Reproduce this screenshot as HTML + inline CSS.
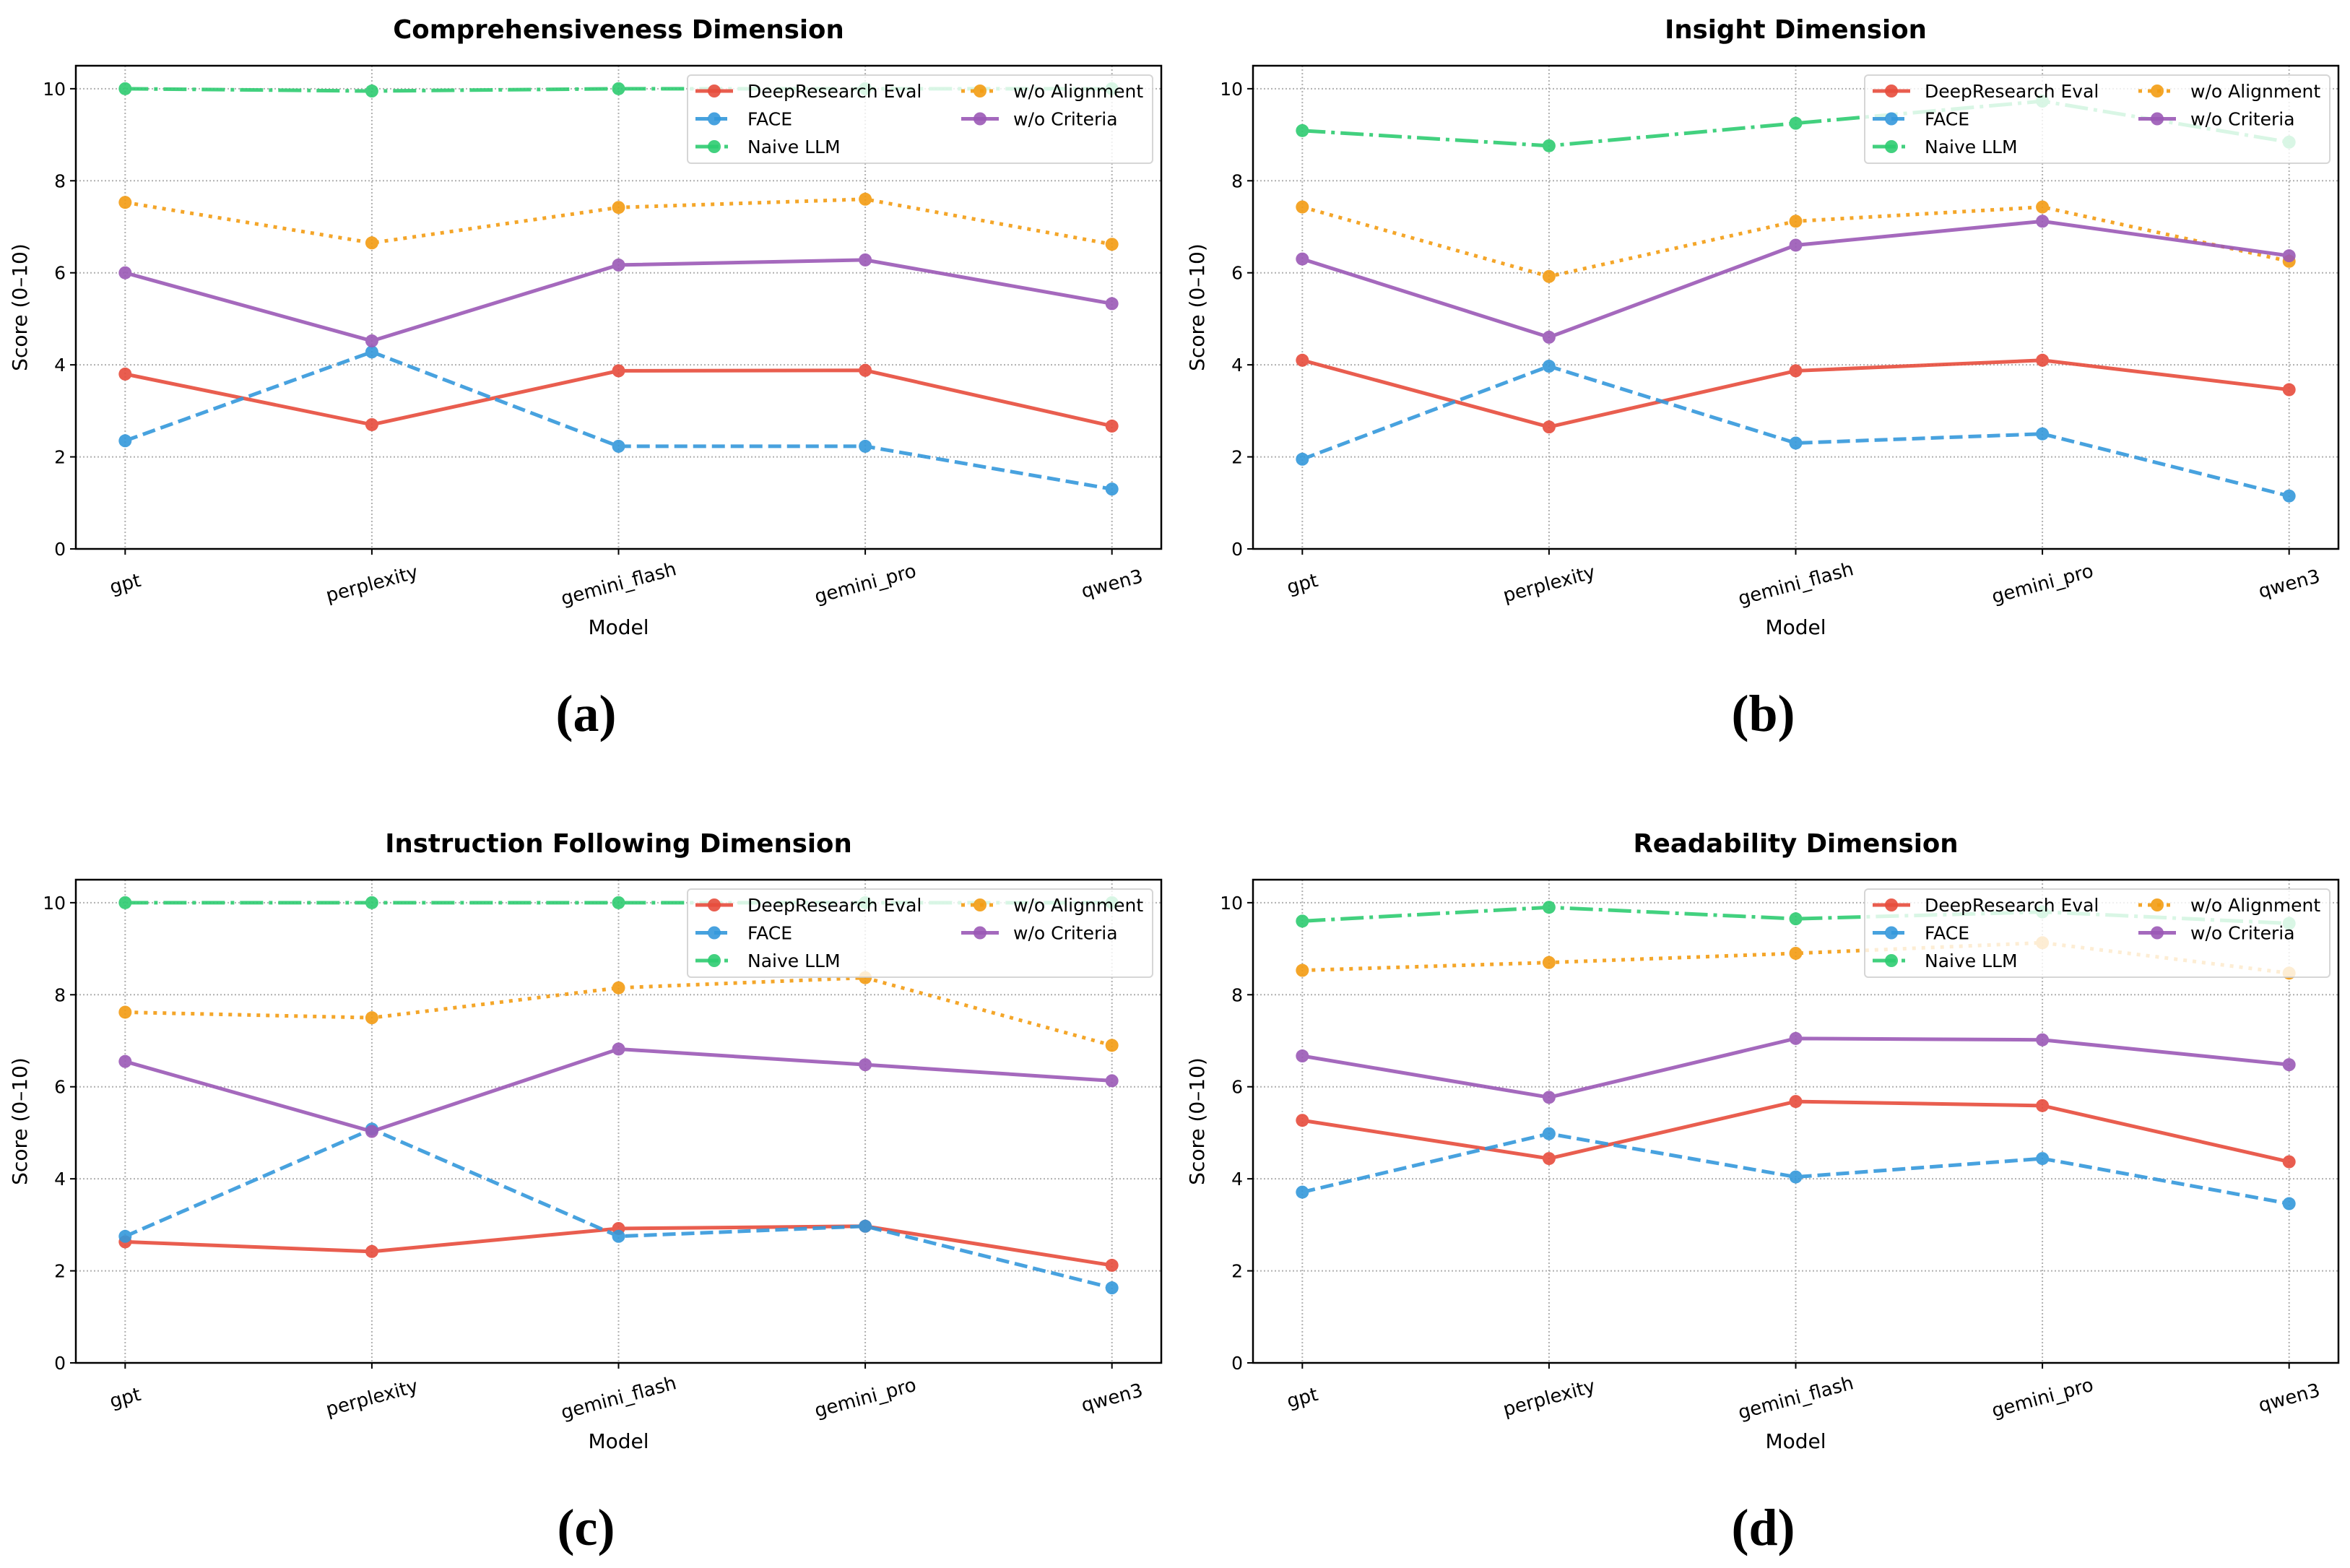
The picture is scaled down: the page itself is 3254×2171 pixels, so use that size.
<!DOCTYPE html>
<html><head><meta charset="utf-8"><style>
html,body{margin:0;padding:0;background:#fff;}
svg{display:block;font-family:"DejaVu Sans","Liberation Sans",sans-serif;}
</style></head><body>
<svg id="fig" width="3254" height="2171" viewBox="0 0 3254 2171" xmlns="http://www.w3.org/2000/svg"></svg>
<script>
const categories = ["gpt","perplexity","gemini_flash","gemini_pro","qwen3"];
const seriesNames = ["DeepResearch Eval","FACE","Naive LLM","w/o Alignment","w/o Criteria"];
const yTicks = [0,2,4,6,8,10];
const panelTitles = ["Comprehensiveness Dimension","Insight Dimension","Instruction Following Dimension","Readability Dimension"];
const panelLabels = ["(a)","(b)","(c)","(d)"];
// panel a
const aDR = [3.8,2.7,3.87,3.88,2.67];
const aFACE = [2.35,4.28,2.23,2.23,1.3];
const aNaive = [10,9.95,10,10,10];
const aAlign = [7.53,6.65,7.42,7.6,6.62];
const aCrit = [6.0,4.52,6.17,6.28,5.33];
// panel b
const bDR = [4.1,2.65,3.87,4.1,3.46];
const bFACE = [1.95,3.97,2.3,2.5,1.15];
const bNaive = [9.09,8.76,9.25,9.73,8.84];
const bAlign = [7.43,5.92,7.12,7.43,6.25];
const bCrit = [6.3,4.6,6.6,7.12,6.37];
// panel c
const cDR = [2.63,2.42,2.92,2.97,2.12];
const cFACE = [2.75,5.08,2.75,2.97,1.63];
const cNaive = [10,10,10,10,10];
const cAlign = [7.62,7.5,8.15,8.37,6.9];
const cCrit = [6.55,5.03,6.82,6.48,6.13];
// panel d
const dDR = [5.27,4.44,5.68,5.59,4.37];
const dFACE = [3.71,4.98,4.04,4.44,3.46];
const dNaive = [9.6,9.9,9.65,9.8,9.55];
const dAlign = [8.53,8.7,8.9,9.13,8.47];
const dCrit = [6.67,5.77,7.05,7.02,6.48];

const panelData = [[aDR,aFACE,aNaive,aAlign,aCrit],[bDR,bFACE,bNaive,bAlign,bCrit],[cDR,cFACE,cNaive,cAlign,cCrit],[dDR,dFACE,dNaive,dAlign,dCrit]];
const colors = ["#e74c3c","#3498db","#2ecc71","#f39c12","#9b59b6"];
const dashes = ["", "18,8", "32,8,5,8", "5,8", ""];
const NS = "http://www.w3.org/2000/svg";
const svg = document.getElementById("fig");
function mk(tag, attrs, parent, text){
  const e = document.createElementNS(NS, tag);
  for (const k in attrs) e.setAttribute(k, attrs[k]);
  if (text !== undefined) e.textContent = text;
  (parent||svg).appendChild(e);
  return e;
}
const lefts = [105,1735], tops = [91,1218];
const W = 1503, H = 669;
for (let p=0;p<4;p++){
  const L = lefts[p%2], T = tops[Math.floor(p/2)];
  const g = mk("g",{});
  
  
  const x = i => L + W*(i+0.2)/(categories.length-1+0.4);
  const y = v => T + H - H*v/10.5;
  yTicks.forEach(t=>{
    const gl = mk("line",{x1:L,x2:L+W,y1:y(t),y2:y(t),stroke:"#b0b0b0","stroke-width":2,"stroke-dasharray":"2,3"},g);
    
    
    const tk = mk("line",{x1:L-8,x2:L,y1:y(t),y2:y(t),stroke:"#000","stroke-width":2},g);
    
    
    const tl = mk("text",{x:L-14,y:y(t)+9,"text-anchor":"end","font-size":25},g,String(t));
    
    
  });
  categories.forEach((c,i)=>{
    const gl = mk("line",{x1:x(i),x2:x(i),y1:T,y2:T+H,stroke:"#b0b0b0","stroke-width":2,"stroke-dasharray":"2,3"},g);
    
    
    const tk = mk("line",{x1:x(i),x2:x(i),y1:T+H,y2:T+H+8,stroke:"#000","stroke-width":2},g);
    
    
    const cy = T+H+48;
    const tl = mk("text",{x:x(i),y:cy+9,"text-anchor":"middle","font-size":26,transform:`rotate(-15 ${x(i)} ${cy})`},g,c);
    
    
  });
  panelData[p].forEach((vals,s)=>{
    const sg = mk("g",{opacity:0.9},g);
    
    
    const pts = vals.map((v,i)=>x(i)+","+y(v)).join(" ");
    const pl = mk("polyline",{points:pts,fill:"none",stroke:colors[s],"stroke-width":5,"stroke-dasharray":dashes[s]||"none"},sg);
    
    
    vals.forEach((v,i)=>{
      const c = mk("circle",{cx:x(i),cy:y(v),r:9,fill:colors[s]},sg);
      
      
    });
  });
  const fr = mk("rect",{x:L,y:T,width:W,height:H,fill:"none",stroke:"#000","stroke-width":2.5},g);
  
  
  const lg = mk("g",{},g);
  
  
  const lx = L+W-656, ly = T+13;
  mk("rect",{x:lx,y:ly,width:644,height:122,rx:5,fill:"#fff","fill-opacity":0.8,stroke:"#ccc","stroke-opacity":0.8,"stroke-width":2},lg);
  const slots = [[0,0],[0,1],[0,2],[1,0],[1,1]];
  seriesNames.forEach((n,s)=>{
    const cx = lx + 11 + slots[s][0]*368, cy = ly + 22 + slots[s][1]*38.5;
    const e = mk("g",{},lg);
    
    
    mk("line",{x1:cx,x2:cx+52,y1:cy,y2:cy,stroke:colors[s],"stroke-width":5,"stroke-dasharray":dashes[s]||"none",opacity:0.9},e);
    mk("circle",{cx:cx+26,cy:cy,r:9,fill:colors[s],opacity:0.9},e);
    mk("text",{x:cx+72,y:cy+9,"font-size":25},e,n);
  });
  const cx0 = L+W/2;
  const tt = mk("text",{x:cx0,y:T-38,"text-anchor":"middle","font-size":35.5,"font-weight":"bold"},g,panelTitles[p]);
  
  
  const xl = mk("text",{x:cx0,y:T+H+118,"text-anchor":"middle","font-size":28},g,"Model");
  
  
  const yl = mk("text",{x:L-68,y:T+H/2,"text-anchor":"middle","font-size":28,transform:`rotate(-90 ${L-68} ${T+H/2})`},g,"Score (0–10)");
  
  
  const pl = mk("text",{x:cx0-45,y:T+H+252,"text-anchor":"middle","font-size":72,"font-weight":"bold","font-family":"Liberation Serif, serif"},g,panelLabels[p]);
  
  
}
</script>
</body></html>
